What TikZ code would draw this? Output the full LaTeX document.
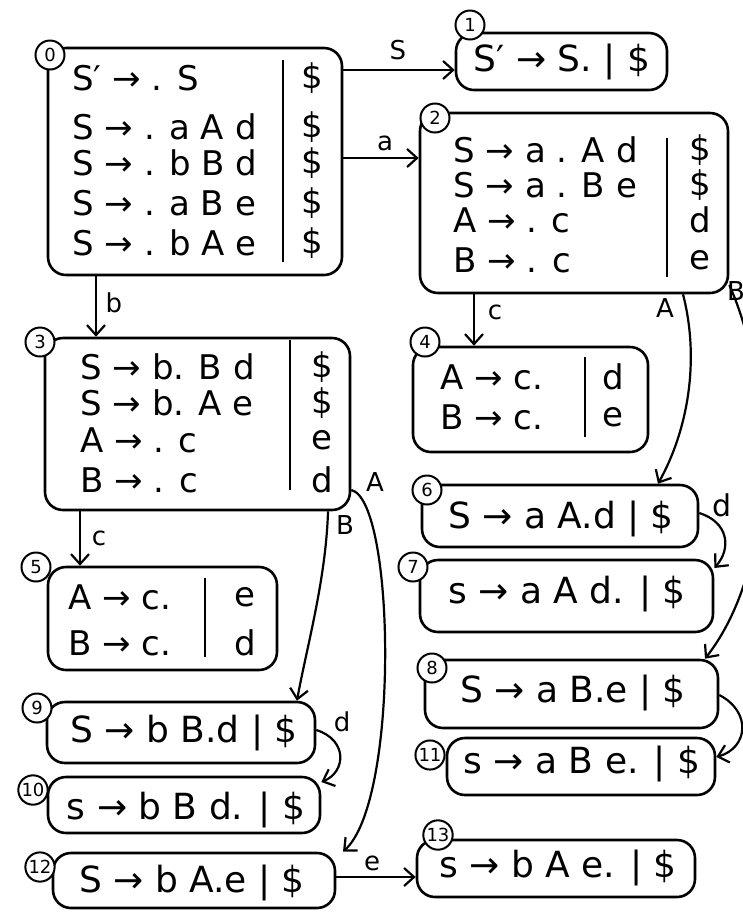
\documentclass[tikz,border=0pt]{standalone}
\usepackage{fontspec}
\setmainfont{DejaVu Sans}
\usetikzlibrary{arrows.meta,fit,calc}
\begin{document}
\begin{tikzpicture}[x=0.5pt,y=-0.5pt,
  box/.style={draw, line width=1.3pt, rounded corners=9pt, inner sep=0pt},
  num/.style={draw, circle, fill=white, line width=1pt, inner sep=0.5pt, minimum size=14.5pt, font=\fontsize{9}{9}\selectfont},
  row/.style={anchor=west, inner sep=0pt, font=\fontsize{17}{17}\selectfont},
  la/.style={inner sep=0pt, font=\fontsize{17}{17}\selectfont},
  one/.style={inner sep=0pt, font=\fontsize{18}{18}\selectfont},
  edge/.style={draw, line width=1.1pt, -{Straight Barb[length=5pt,width=9pt]}},
  elab/.style={inner sep=0pt, font=\fontsize{13}{13}\selectfont},
  div/.style={line width=1.2pt}
]
\fill[white] (0,0) rectangle (743,912);
\useasboundingbox (0,0) rectangle (743,912);

% helper coordinates
\path (0,70) coordinate (h70) (0,158) coordinate (h158) (0,285) coordinate (h285)
      (0,490) coordinate (h490) (0,513) coordinate (h513) (0,568) coordinate (h568)
      (0,695) coordinate (h695) (0,757) coordinate (h757) (0,730) coordinate (h730)
      (0,782) coordinate (h782) (0,877) coordinate (h877)
      (96,0) coordinate (v96) (474,0) coordinate (v474) (80,0) coordinate (v80)
      (683,0) coordinate (v683) (658,0) coordinate (v658) (705,0) coordinate (v705)
      (328,0) coordinate (v328) (297,0) coordinate (v297) (343,0) coordinate (v343);

% ---------- state boxes ----------
\node[box, fit={(48,48) (342,275)}] (s0) {};
\node[box, fit={(456,33) (667,90)}] (s1) {};
\node[box, fit={(420,113) (728,293)}] (s2) {};
\node[box, fit={(45,338) (350,510)}] (s3) {};
\node[box, fit={(413,347) (648,452)}] (s4) {};
\node[box, fit={(48,567) (277,670)}] (s5) {};
\node[box, fit={(422,485) (698,547)}] (s6) {};
\node[box, fit={(420,560) (713,632)}] (s7) {};
\node[box, fit={(425,660) (718,728)}] (s8) {};
\node[box, fit={(47,702) (315,763)}] (s9) {};
\node[box, fit={(48,777) (320,833)}] (s10) {};
\node[box, fit={(447,738) (715,795)}] (s11) {};
\node[box, fit={(53,853) (335,908)}] (s12) {};
\node[box, fit={(417,840) (695,897)}] (s13) {};

% ---------- state numbers ----------
\node[num] (n0) at (50,55) {0};
\node[num] (n1) at (470,25) {1};
\node[num] (n2) at (435,118) {2};
\node[num] (n3) at (40,342) {3};
\node[num] (n4) at (425,342) {4};
\node[num] (n5) at (36,567) {5};
\node[num] (n6) at (427,490) {6};
\node[num] (n7) at (413,567) {7};
\node[num] (n8) at (432,668) {8};
\node[num] (n9) at (37,708) {9};
\node[num] (n10) at (33,790) {10};
\node[num] (n11) at (430,755) {11};
\node[num] (n12) at (40,867) {12};
\node[num] (n13) at (438,835) {13};

% ---------- state 0 ----------
\node[row] (r01) at (72,78) {S′ → . S};
\node[row] (r02) at (72,127) {S → . a A d};
\node[row] (r03) at (72,163) {S → . b B d};
\node[row] (r04) at (72,203) {S → . a B e};
\node[row] (r05) at (72,243) {S → . b A e};
\draw[div] (283,60) -- (283,262);
\node[la] (k01) at (312,78) {\$};
\node[la] (k02) at (312,127) {\$};
\node[la] (k03) at (312,163) {\$};
\node[la] (k04) at (312,203) {\$};
\node[la] (k05) at (312,243) {\$};

% ---------- state 1 ----------
\node[one] (t1) at (562,62) {S′ → S. | \$};

% ---------- state 2 ----------
\node[row] (r21) at (453,150) {S → a . A d};
\node[row] (r22) at (453,185) {S → a . B e};
\node[row] (r23) at (453,220) {A → . c};
\node[row] (r24) at (453,260) {B → . c};
\draw[div] (667,138) -- (667,277);
\node[la] (k21) at (700,150) {\$};
\node[la] (k22) at (700,185) {\$};
\node[la] (k23) at (700,220) {d};
\node[la] (k24) at (700,260) {e};

% ---------- state 3 ----------
\node[row] (r31) at (80,367) {S → b. B d};
\node[row] (r32) at (80,403) {S → b. A e};
\node[row] (r33) at (80,440) {A → . c};
\node[row] (r34) at (80,480) {B → . c};
\draw[div] (290,340) -- (290,490);
\node[la] (k31) at (322,367) {\$};
\node[la] (k32) at (322,403) {\$};
\node[la] (k33) at (322,440) {e};
\node[la] (k34) at (322,480) {d};

% ---------- state 4 ----------
\node[row] (r41) at (440,377) {A → c.};
\node[row] (r42) at (440,417) {B → c.};
\draw[div] (585,357) -- (585,437);
\node[la] (k41) at (613,377) {d};
\node[la] (k42) at (613,417) {e};

% ---------- state 5 ----------
\node[row] (r51) at (68,597) {A → c.};
\node[row] (r52) at (68,643) {B → c.};
\draw[div] (205,578) -- (205,657);
\node[la] (k51) at (245,597) {e};
\node[la] (k52) at (245,643) {d};

% ---------- single-item states ----------
\node[one] (t6) at (561,519) {S → a A.d | \$};
\node[one] (t7) at (567,594) {s → a A d. | \$};
\node[one] (t8) at (573,693) {S → a B.e | \$};
\node[one] (t9) at (184,733) {S → b B.d | \$};
\node[one] (t10) at (186,810) {s → b B d. | \$};
\node[one] (t11) at (582,764) {s → a B e. | \$};
\node[one] (t12) at (192,883) {S → b A.e | \$};
\node[one] (t13) at (558,868) {s → b A e. | \$};

% ---------- transitions ----------
\draw[edge] (s0.east |- h70) -- (s1.west |- h70);
\node[elab] (l01) at (398,50) {S};
\draw[edge] (s0.east |- h158) -- (s2.west |- h158);
\node[elab] (l02) at (385,143) {a};
\draw[edge] (s0.south -| v96) -- (s3.north -| v96);
\node[elab] (l03) at (114,303) {b};
\draw[edge] (s2.south -| v474) -- (s4.north -| v474);
\node[elab] (l24) at (495,312) {c};
\draw[edge] (s2.south -| v683) .. controls (700,360) and (688,430) .. (s6.north -| v658);
\node[elab] (l26) at (665,308) {A};
\draw[edge] (s2.east |- h285) .. controls (772,380) and (782,560) .. (s8.north -| v705);
\node[elab] (l28) at (736,291) {B};
\draw[edge] (s3.south -| v80) -- (s5.north -| v80);
\node[elab] (l35) at (99,538) {c};
\draw[edge] (s3.south -| v328) .. controls (326,580) and (306,650) .. (s9.north -| v297);
\node[elab] (l39) at (345,525) {B};
\draw[edge] (s3.east |- h490) .. controls (395,500) and (400,800) .. (s12.north -| v343);
\node[elab] (l312) at (375,482) {A};
\draw[edge] (s6.east |- h513) .. controls (728,522) and (732,548) .. (s7.east |- h568);
\node[elab, font=\fontsize{15}{15}\selectfont] (l67) at (722,505) {d};
\draw[edge] (s8.east |- h695) .. controls (752,712) and (748,748) .. (s11.east |- h757);
\draw[edge] (s9.east |- h730) .. controls (348,740) and (346,772) .. (s10.east |- h782);
\node[elab] (l910) at (342,722) {d};
\draw[edge] (s12.east |- h877) -- (s13.west |- h877);
\node[elab] (l1213) at (372,863) {e};
\end{tikzpicture}
\end{document}
